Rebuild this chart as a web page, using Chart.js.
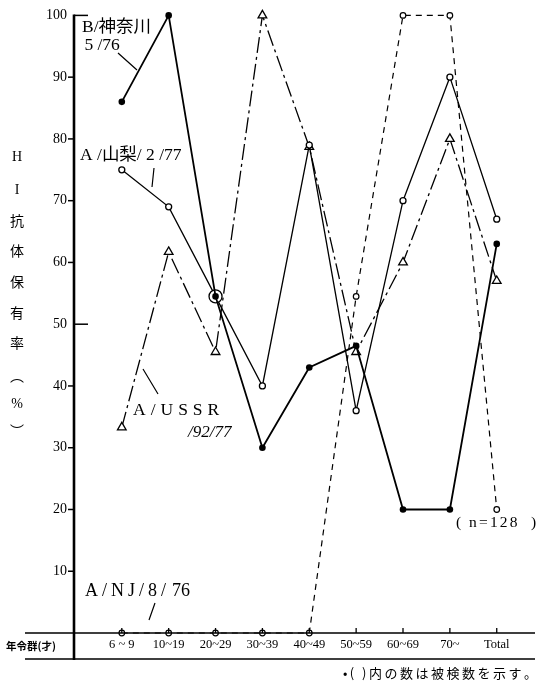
<!DOCTYPE html>
<html>
<head>
<meta charset="utf-8">
<script src="https://cdn.jsdelivr.net/npm/chart.js@4.4.1/dist/chart.umd.min.js"></script>
<style>
  html, body { margin: 0; padding: 0; background: #fff; }
  #wrap { width: 541px; height: 681px; }
</style>
</head>
<body>
<div id="wrap"><canvas id="hiChart" width="541" height="681"></canvas></div>
<script>
// 年令群ごとの HI 抗体保有率 (%)
var ageGroups = ['6 ~ 9', '10~19', '20~29', '30~39', '40~49', '50~59', '60~69', '70~', 'Total'];
var kanagawa  = [86, 100, 54.5, 30, 43, 46.5, 20, 20, 63];      // B/神奈川/5/76
var yamanashi = [75, 69, 54.5, 40, 79, 36, 70, 90, 67];         // A/山梨/2/77
var ussr      = [33.3, 61.7, 45.5, 100, 78.7, 45.5, 60, 80, 57]; // A/USSR/92/77
var newJersey = [0, 0, 0, 0, 0, 54.5, 100, 100, 20];            // A/NJ/8/76
var yTickValues = [10, 20, 30, 40, 50, 60, 70, 80, 90, 100];

var SERIF = '"Liberation Serif", "Noto Sans CJK JP"';
var CJK = '"Noto Sans CJK JP", "Liberation Serif"';

function toPoints(values) {
  return values.map(function (v, i) { return { x: i, y: v }; });
}

// 字間をあけて文字を書く (終わりの x を返す)
function spacedText(ctx, text, x, y, gap) {
  for (var i = 0; i < text.length; i++) {
    ctx.fillText(text[i], x, y);
    x += ctx.measureText(text[i]).width + gap;
  }
  return x;
}

function spacedWidth(ctx, text, gap) {
  var w = 0;
  for (var i = 0; i < text.length; i++) {
    w += ctx.measureText(text[i]).width + gap;
  }
  return w - gap;
}

// 軸線・目盛・注記を描くプラグイン
var decorations = {
  id: 'decorations',
  afterDraw: function (chart) {
    var ctx = chart.ctx;
    var xs = chart.scales.x;
    var ys = chart.scales.y;
    var ax = xs.left;
    var y0 = ys.getPixelForValue(0);
    var y100 = ys.getPixelForValue(100);

    ctx.save();
    ctx.strokeStyle = '#000';
    ctx.fillStyle = '#000';
    ctx.setLineDash([]);

    // x 軸と下の線
    ctx.lineWidth = 1.5;
    ctx.beginPath();
    ctx.moveTo(25, y0); ctx.lineTo(535, y0);
    ctx.moveTo(25, y0 + 26); ctx.lineTo(535, y0 + 26);
    ctx.stroke();

    // x 軸の目盛 (上向き)
    ctx.lineWidth = 1.3;
    ageGroups.forEach(function (g, i) {
      var px = xs.getPixelForValue(i);
      ctx.beginPath();
      ctx.moveTo(px, y0); ctx.lineTo(px, y0 - 5);
      ctx.stroke();
    });

    // y 軸
    ctx.lineWidth = 2.6;
    ctx.beginPath();
    ctx.moveTo(ax, y100 - 1); ctx.lineTo(ax, y0 + 27);
    ctx.stroke();

    ctx.lineWidth = 1.5;
    yTickValues.forEach(function (v) {
      var py = ys.getPixelForValue(v);
      ctx.beginPath();
      if (v === 50 || v === 100) {
        ctx.moveTo(ax, py); ctx.lineTo(ax + 14, py);
      } else {
        ctx.moveTo(ax - 6, py); ctx.lineTo(ax, py);
      }
      ctx.stroke();
    });

    // 縦書きの軸タイトル
    var title = [['H', 157, SERIF], ['I', 190, SERIF], ['抗', 221, CJK], ['体', 251, CJK],
                 ['保', 282, CJK], ['有', 313, CJK], ['率', 343, CJK], ['︵', 376, CJK],
                 ['%', 404, SERIF], ['︶', 431, CJK]];
    ctx.textAlign = 'center';
    ctx.textBaseline = 'middle';
    title.forEach(function (t) {
      ctx.font = '14px ' + t[2];
      ctx.fillText(t[0], 17, t[1]);
    });

    // x 軸タイトル
    ctx.font = 'bold 10.5px ' + CJK;
    ctx.fillText('年令群(才)', 31, y0 + 13);

    // 系列名
    ctx.textAlign = 'left';
    ctx.font = '17.5px ' + SERIF;
    ctx.fillText('B/神奈川', 82, 27);
    ctx.fillText(' 5 /76', 80, 45);
    ctx.fillText('A /山梨/ 2 /77', 80, 155);
    spacedText(ctx, 'A/USSR', 133, 410, 5);
    ctx.font = 'italic 17px ' + SERIF;
    ctx.fillText('/92/77', 188, 433);
    ctx.font = '18px ' + SERIF;
    var nx = spacedText(ctx, 'A/NJ/8/', 85, 591, 4);
    ctx.fillText('76', nx + 2, 591);
    ctx.font = '15.5px ' + SERIF;
    ctx.fillText('(', 456, 523);
    spacedText(ctx, 'n=128', 469, 523, 2.2);
    ctx.fillText(')', 531, 523);

    // 引き出し線
    ctx.lineWidth = 1.2;
    ctx.beginPath();
    ctx.moveTo(118, 53); ctx.lineTo(137, 70);
    ctx.moveTo(154, 168); ctx.lineTo(152, 187);
    ctx.moveTo(158, 394); ctx.lineTo(143, 369);
    ctx.moveTo(155, 603); ctx.lineTo(149, 620);
    ctx.stroke();

    // 注
    ctx.font = '13px ' + CJK;
    var note = '•( )内の数は被検数を示す。';
    var w = spacedWidth(ctx, note, 2.5);
    spacedText(ctx, note, 537 - w, 673, 2.5);

    ctx.restore();
  }
};

function init() {
  var canvas = document.getElementById('hiChart');

  // 先頭の系列が一番上に描かれる
  var chart = new Chart(canvas, {
    type: 'line',
    data: {
      datasets: [
        {
          label: 'B/神奈川/5/76',
          data: toPoints(kanagawa),
          borderColor: '#000',
          borderWidth: 1.8,
          pointStyle: 'circle',
          pointRadius: 3.3,
          pointBackgroundColor: '#000',
          pointBorderColor: '#000',
          pointBorderWidth: 0,
          clip: false
        },
        {
          label: 'A/山梨/2/77',
          data: toPoints(yamanashi),
          borderColor: '#000',
          borderWidth: 1.3,
          pointStyle: 'circle',
          pointRadius: [3, 3, 6.5, 3, 3, 3, 3, 3, 3],
          pointBackgroundColor: '#fff',
          pointBorderColor: '#000',
          pointBorderWidth: 1.3,
          clip: false
        },
        {
          label: 'A/USSR/92/77',
          data: toPoints(ussr),
          borderColor: '#000',
          borderWidth: 1.3,
          borderDash: [16, 4, 3, 4],
          pointStyle: 'triangle',
          pointRadius: 5,
          pointBackgroundColor: '#fff',
          pointBorderColor: '#000',
          pointBorderWidth: 1.3,
          clip: false
        },
        {
          label: 'A/NJ/8/76',
          data: toPoints(newJersey),
          borderColor: '#000',
          borderWidth: 1.2,
          borderDash: [6, 5],
          pointStyle: 'circle',
          pointRadius: 2.8,
          pointBackgroundColor: '#fff',
          pointBorderColor: '#000',
          pointBorderWidth: 1.2,
          clip: false
        }
      ]
    },
    options: {
      responsive: false,
      animation: false,
      devicePixelRatio: 1,
      layout: { padding: { top: 14, right: 6, bottom: 0, left: 0 } },
      plugins: {
        legend: { display: false },
        tooltip: { enabled: false }
      },
      elements: { line: { tension: 0 } },
      scales: {
        x: {
          type: 'linear',
          min: -1.02,
          max: 8.81,
          grid: { display: false, drawTicks: false },
          border: { display: false },
          afterFit: function (scale) { scale.height = 48; },
          afterBuildTicks: function (scale) {
            scale.ticks = ageGroups.map(function (g, i) { return { value: i }; });
          },
          ticks: {
            color: '#000',
            padding: 4,
            maxRotation: 0,
            autoSkip: false,
            font: { family: SERIF, size: 12.5 },
            callback: function (value) { return ageGroups[value]; }
          }
        },
        y: {
          min: 0,
          max: 100,
          grid: { display: false, drawTicks: false },
          border: { display: false },
          afterFit: function (scale) { scale.width = 74; },
          afterBuildTicks: function (scale) {
            scale.ticks = yTickValues.map(function (v) { return { value: v }; });
          },
          ticks: {
            color: '#000',
            padding: 7,
            font: { family: SERIF, size: 14 },
            callback: function (value) { return value; }
          }
        }
      }
    },
    plugins: [decorations]
  });
}

init();
</script>
</body>
</html>
